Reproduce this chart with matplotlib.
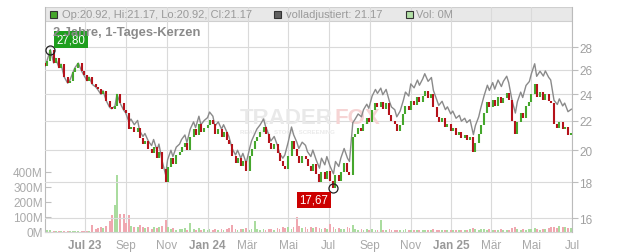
import numpy as np
import pandas as pd
import matplotlib
matplotlib.use('Agg')
from matplotlib import pyplot as plt
import matplotlib.dates as mdates
from matplotlib.patches import Rectangle
from matplotlib.ticker import NullLocator

plt.rcParams['font.family'] = ['Liberation Sans', 'DejaVu Sans']

# closes, read every 3rd trading day from 2023-05-02
close = [26.3, 26.8, 27.8, 26.6, 27.0, 26.2, 26.5, 25.4, 24.9, 25.1,
         25.8, 26.2, 26.6, 25.9, 25.6, 25.1, 25.4, 24.8, 24.6, 24.4,
         24.0, 24.3, 23.5, 23.0, 22.9, 23.1, 24.0, 23.3, 22.8, 22.6,
         21.4, 21.6, 21.2, 21.5, 20.8, 20.4, 20.6, 20.1, 19.8, 20.2,
         19.5, 19.9, 18.8, 18.0, 18.9, 19.5, 19.1, 19.7, 19.9, 20.2,
         20.5, 20.0, 20.9, 21.4, 21.0, 21.8, 21.2, 21.5, 21.7, 22.1,
         21.8, 21.1, 21.4, 20.9, 21.2, 20.7, 20.4, 19.6, 19.2, 19.5,
         19.0, 19.3, 18.7, 19.6, 20.1, 20.6, 20.9, 21.2, 21.6, 21.1,
         20.5, 20.1, 20.4, 19.8, 19.3, 19.0, 18.8, 19.6, 20.6, 20.1,
         19.6, 19.2, 19.6, 19.4, 19.0, 18.7, 19.1, 18.5, 18.0, 18.6,
         18.2, 18.7, 18.1, 17.67, 18.4, 18.1, 18.6, 19.2, 18.6, 18.4,
         20.9, 21.1, 21.5, 21.3, 21.8, 22.2, 21.9, 22.8, 23.3, 23.0,
         23.4, 22.9, 23.3, 22.4, 22.0, 21.8, 21.3, 21.7, 22.5, 23.1,
         22.8, 23.5, 23.2, 23.8, 23.4, 23.9, 24.3, 23.7, 24.0, 23.0,
         22.3, 21.9, 22.2, 21.6, 21.8, 21.3, 21.5, 21.0, 21.2, 20.8,
         21.0, 20.7, 20.9, 19.9, 20.5, 21.1, 21.7, 22.6, 23.4, 23.0,
         23.6, 23.1, 23.8, 23.3, 23.7, 24.1, 23.6, 22.0, 21.1, 21.9,
         22.6, 22.2, 23.1, 23.4, 24.0, 24.8, 23.8, 24.2, 23.6, 24.0,
         23.5, 23.3, 21.8, 21.5, 21.9, 21.4, 21.6, 21.0, 21.17]
first_open = 26.6

# volume in millions, same dates
volume = [12, 14, 10, 8, 9, 6, 5, 7, 6, 5,
          8, 6, 5, 9, 5, 6, 8, 45, 20, 25,
          30, 25, 40, 70, 110, 180, 380, 120, 120, 60,
          110, 40, 35, 30, 45, 30, 25, 30, 20, 35,
          25, 30, 40, 80, 30, 20, 25, 15, 20, 18,
          25, 15, 60, 20, 15, 25, 15, 20, 12, 18,
          10, 20, 15, 20, 12, 18, 25, 45, 20, 15,
          22, 18, 25, 15, 20, 70, 18, 12, 20, 15,
          22, 18, 12, 25, 20, 30, 25, 30, 20, 35,
          100, 40, 25, 30, 20, 35, 25, 30, 25, 20,
          25, 20, 50, 30, 20, 25, 18, 22, 30, 25,
          45, 20, 15, 18, 12, 20, 15, 18, 12, 15,
          80, 15, 12, 20, 15, 12, 12, 15, 10, 18,
          12, 15, 10, 14, 12, 16, 10, 14, 12, 18,
          15, 12, 10, 14, 12, 10, 14, 12, 10, 15,
          12, 14, 18, 25, 20, 15, 18, 20, 15, 18,
          12, 16, 14, 18, 15, 12, 16, 25, 30, 18,
          15, 20, 16, 22, 18, 25, 20, 16, 22, 18,
          25, 30, 35, 28, 40, 30, 35, 28, 25]

# adjustment factor of the "volladjustiert" line
div_dates = ['2023-09-05', '2024-04-25', '2024-11-01', '2025-04-01', '2025-05-15']
adj_factor = [1.025, 1.047, 1.057, 1.07, 1.08]

tick_dates = ['2023-07-01', '2023-09-01', '2023-11-01', '2024-01-01', '2024-03-01',
              '2024-05-01', '2024-07-01', '2024-09-01', '2024-11-01', '2025-01-01',
              '2025-03-01', '2025-05-01', '2025-07-01']
tick_labels = ['Jul 23', 'Sep', 'Nov', 'Jan 24', 'Mär', 'Mai', 'Jul', 'Sep', 'Nov',
               'Jan 25', 'Mär', 'Mai', 'Jul']
price_ticks = [16, 18, 20, 22, 24, 26, 28]
vol_ticks = [0, 100, 200, 300, 400]

#####
dates = pd.bdate_range('2023-05-02', periods=len(close), freq='3B')
xn = mdates.date2num(dates)
close = np.array(close)
opens = np.concatenate([[first_open], close[:-1]])
up = close >= opens
c_col = np.where(up, '#45a62c', '#b5121a')
v_col = np.where(up, '#aadc9f', '#f0a7b0')

factor = np.ones(len(close))
for d, f in zip(div_dates, adj_factor):
    factor[dates >= pd.Timestamp(d)] = f
adj = close * factor

W, H = 632, 253
fig = plt.figure(figsize=(W / 100, H / 100), dpi=100)
ax = fig.add_axes([45 / W, 20 / H, 527 / W, 225 / H])
axp = ax.twinx()

def fp(x, y):
    return (x / W, 1 - y / H)

def px(x, y):
    # top-left pixel -> display pixel (bottom-left origin)
    return (x, H - y)

# volume
ax.bar(xn, volume, width=2.8, color=v_col, linewidth=0, zorder=1)
ax.set_ylim(0, 1492)
ax.set_yticks(vol_ticks)
ax.set_yticklabels([f'{v}M' for v in vol_ticks])
ax.tick_params(axis='y', direction='in', length=4, width=0.8, color='#c0c0c0',
               labelcolor='#aaaaaa', labelsize=8.5, pad=1.5)
ax.set_xlim(mdates.date2num(pd.Timestamp('2023-05-02')),
            mdates.date2num(pd.Timestamp('2025-07-01')))
ax.set_xticks(mdates.date2num(pd.to_datetime(tick_dates)))
ax.set_xticklabels(tick_labels)
ax.tick_params(axis='x', length=0, pad=5, labelsize=8.5, labelcolor='#a8a8a8')
for lab in ax.get_xticklabels():
    if ' ' in lab.get_text():
        lab.set_fontweight('bold')
        lab.set_color('#999999')
ax.set_axisbelow(True)
ax.grid(axis='x', color='#dadada', lw=0.8)

# legend band
ax.add_patch(Rectangle((0, 1 - 14 / 225), 1, 14 / 225, transform=ax.transAxes,
                       facecolor='#e8e8e8', edgecolor='#cfcfcf', lw=0.8, zorder=0.2))

# price
axp.set_yscale('log')
axp.set_ylim(15.29, 31.96)
axp.set_yticks(price_ticks)
axp.set_yticklabels([str(p) for p in price_ticks])
axp.yaxis.set_minor_locator(NullLocator())
axp.tick_params(axis='y', direction='out', length=4, width=0.8, color='#bdbdbd',
                labelcolor='#a0a0a0', labelsize=8.5, pad=1)
axp.set_axisbelow(True)
axp.grid(axis='y', color='#dadada', lw=0.8)

# watermark
axp.text(*px(333, 124), 'TRADER', transform=None, ha='right', va='baseline',
         fontsize=16, fontweight='bold', color='#e9e9e9', zorder=0.6)
axp.text(*px(335, 124), 'FOX', transform=None, ha='left', va='baseline',
         fontsize=16, fontweight='bold', color='#f6d4d4', zorder=0.6)
axp.text(*px(240, 130), 'REALTIME  STOCK  SCREENING', transform=None,
         ha='left', va='top', fontsize=4.4, fontweight='bold', color='#ebebeb', zorder=0.6)

axp.plot(xn, adj, color='#8a8a8a', lw=1.0, zorder=2)
axp.vlines(xn, opens, close, colors=c_col, lw=1.5, zorder=3)

imax = int(np.argmax(close))
imin = int(np.argmin(close))
axp.plot(xn[imax], close[imax], 'o', mfc='none', mec='#222222', ms=6.5, mew=0.9, zorder=4)
axp.plot(xn[imin], close[imin], 'o', mfc='none', mec='#222222', ms=6.5, mew=0.9, zorder=4)
axp.annotate(f'{close[imax]:.2f}'.replace('.', ','), (xn[imax], close[imax]),
             xytext=(6, 10), textcoords='offset pixels', ha='left', va='center',
             fontsize=8.3, color='white', zorder=5,
             bbox=dict(boxstyle='square,pad=0.2', fc='#1e9e1e', ec='none'))
axp.annotate(f'{close[imin]:.2f}'.replace('.', ','), (xn[imin], close[imin]),
             xytext=(-5, -12), textcoords='offset pixels', ha='right', va='center',
             fontsize=8.3, color='white', zorder=5,
             bbox=dict(boxstyle='square,pad=0.2', fc='#cc0000', ec='none'))

for a in (ax, axp):
    for s in a.spines.values():
        s.set_visible(False)
ax.spines['left'].set_visible(True)
ax.spines['left'].set_color('#bbbbbb')
ax.spines['bottom'].set_visible(True)
ax.spines['bottom'].set_color('#d5d5d5')
axp.spines['right'].set_visible(True)
axp.spines['right'].set_color('#bbbbbb')

# legend texts
items = [(50, '#45a62c', 62, 'Op:20.92, Hi:21.17, Lo:20.92, Cl:21.17'),
         (274, '#606060', 286, 'volladjustiert: 21.17'),
         (406, '#b2e0a6', 416, 'Vol: 0M')]
for sx, col, tx, txt in items:
    x0, y0 = fp(sx, 19)
    fig.patches.append(Rectangle((x0, y0), 7 / W, 7 / H, transform=fig.transFigure,
                                 facecolor=col, edgecolor='#333333', lw=0.8))
    fig.text(*fp(tx, 15.5), txt, ha='left', va='center', fontsize=8, color='#9a9a9a')

# title sits partly under the high label, as in the source chart
fig.text(*fp(53, 33), '2 Jahre, 1-Tages-Kerzen', ha='left', va='center',
         fontsize=9.3, fontweight='bold', color='#8a8a8a')

plt.savefig('out.png', dpi=100)
